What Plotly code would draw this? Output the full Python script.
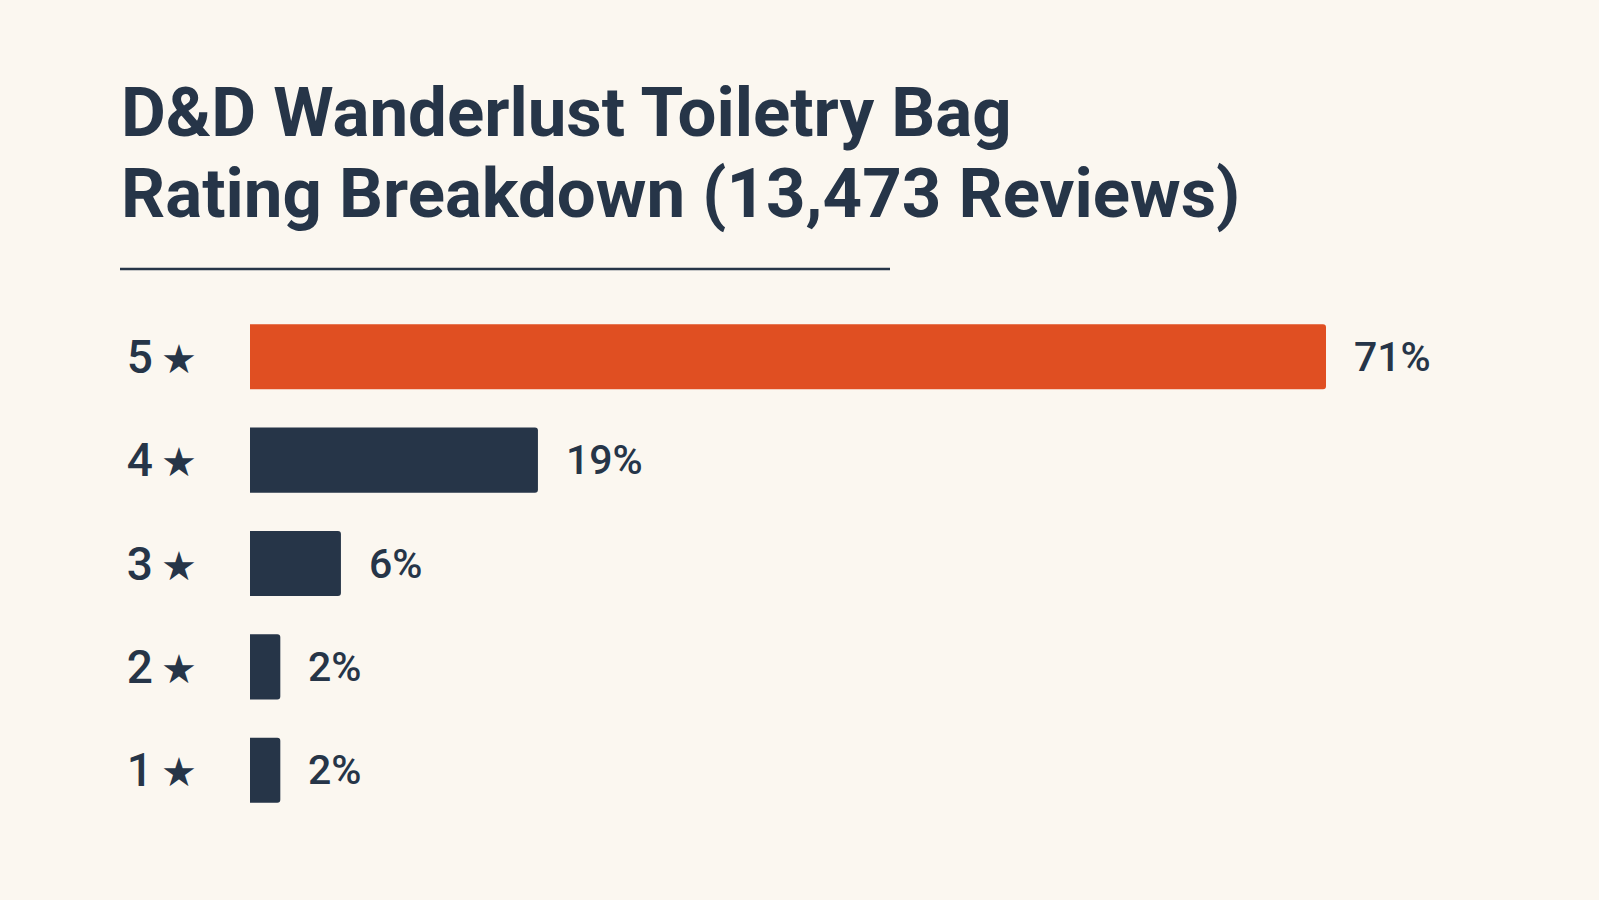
import plotly.graph_objects as go

ratings = ["5", "4", "3", "2", "1"]
percents = [71, 19, 6, 2, 2]
value_labels = ["71%", "19%", "6%", "2%", "2%"]
title_line1 = "D&D Wanderlust Toiletry Bag"
title_line2 = "Rating Breakdown (13,473 Reviews)"

BG = "#FBF7F0"
NAVY = "#263548"
ORANGE = "#E04F22"

cats = [f"{r}★" for r in ratings]
ticktext = [f"{r}<span style='font-size:40px'>\u2009★</span>" for r in ratings]
colors = [ORANGE if i == 0 else NAVY for i in range(len(ratings))]

fig = go.Figure()
fig.add_trace(go.Bar(
    x=percents, y=cats, orientation="h",
    marker=dict(color=colors, line=dict(width=0)),
    hoverinfo="skip",
))

for c, v, t in zip(cats, percents, value_labels):
    fig.add_annotation(x=v, y=c, xref="x", yref="y", text=t, showarrow=False,
                       xanchor="left", yanchor="middle", xshift=26,
                       font=dict(family="Roboto", size=41, color=NAVY, weight=500))

W, H = 1599, 900
ml, mr, mt, mb = 250, 100, 305, 78
pw = W - ml - mr
ph = H - mt - mb

def px_to_paper_x(px):
    return (px - ml) / pw

def px_to_paper_y(py):
    return (H - mb - py) / ph

fig.add_annotation(x=px_to_paper_x(119), y=px_to_paper_y(112), xref="paper", yref="paper",
                   text=title_line1, showarrow=False, xanchor="left", yanchor="middle",
                   font=dict(family="Roboto", size=69, color=NAVY, weight=700))
fig.add_annotation(x=px_to_paper_x(119), y=px_to_paper_y(193), xref="paper", yref="paper",
                   text=title_line2, showarrow=False, xanchor="left", yanchor="middle",
                   font=dict(family="Roboto", size=69, color=NAVY, weight=700))

fig.add_shape(type="line", xref="paper", yref="paper",
              x0=px_to_paper_x(120), x1=px_to_paper_x(890),
              y0=px_to_paper_y(269), y1=px_to_paper_y(269),
              line=dict(color=NAVY, width=2.5))

fig.update_layout(
    width=W, height=H,
    margin=dict(l=ml, r=mr, t=mt, b=mb),
    paper_bgcolor=BG, plot_bgcolor=BG,
    showlegend=False,
    bargap=0.37,
    barcornerradius=3,
    xaxis=dict(visible=False, range=[0, 71 * pw / 1076]),
    yaxis=dict(autorange="reversed", showgrid=False, zeroline=False, showline=False,
               ticks="", tickmode="array", tickvals=cats, ticktext=ticktext,
               ticklabelstandoff=52,
               tickfont=dict(family="Roboto", size=46, color=NAVY, weight=500)),
)

fig.write_html("out.html")
